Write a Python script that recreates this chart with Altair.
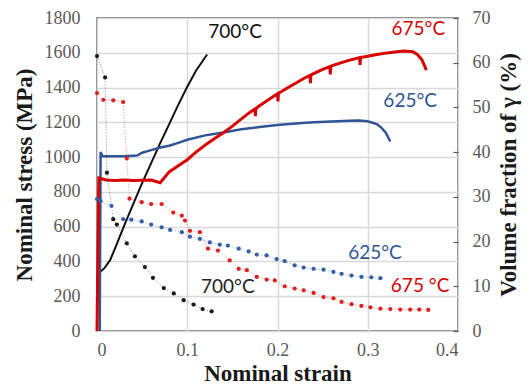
import altair as alt
import pandas as pd

# ---- stress-strain curves (left axis, MPa) ----
black_strain = [0, 0.001, 0.008, 0.0144, 0.02, 0.025, 0.031, 0.04, 0.05, 0.06, 0.07, 0.08, 0.09, 0.10, 0.11, 0.122]
black_stress = [0, 330, 360, 406, 475, 540, 617, 728, 850, 965, 1080, 1190, 1300, 1405, 1500, 1590]

blue_strain = [0.003, 0.004, 0.006, 0.01, 0.02, 0.03, 0.04, 0.045, 0.05, 0.06, 0.07, 0.08, 0.09, 0.10, 0.12,
               0.14, 0.16, 0.18, 0.20, 0.22, 0.24, 0.26, 0.28, 0.29, 0.30, 0.31, 0.315, 0.32, 0.325]
blue_stress = [0, 1030, 1005, 1005, 1005, 1005, 1008, 1010, 1025, 1040, 1055, 1065, 1082, 1100, 1125,
               1142, 1160, 1173, 1184, 1193, 1200, 1205, 1209, 1210, 1206, 1190, 1170, 1140, 1090]

red_strain = [0, 0.002, 0.01, 0.02, 0.03, 0.04, 0.05, 0.06, 0.07, 0.08, 0.09, 0.10, 0.11, 0.12, 0.13, 0.14,
              0.15, 0.16, 0.17, 0.175, 0.1755, 0.176, 0.18, 0.19, 0.20, 0.2005, 0.201, 0.21, 0.22, 0.23,
              0.236, 0.2365, 0.237, 0.24, 0.25, 0.258, 0.2585, 0.259, 0.26, 0.27, 0.28, 0.291, 0.2915,
              0.292, 0.30, 0.31, 0.32, 0.33, 0.34, 0.35, 0.355, 0.36, 0.365]
red_stress = [0, 880, 868, 866, 869, 865, 867, 868, 853, 915, 950, 985, 1030, 1070, 1105, 1140,
              1178, 1220, 1260, 1277, 1235, 1279, 1295, 1330, 1365, 1320, 1367, 1395, 1425, 1455,
              1470, 1425, 1472, 1480, 1505, 1520, 1475, 1522, 1525, 1542, 1558, 1572, 1530,
              1573, 1580, 1590, 1598, 1605, 1610, 1606, 1590, 1560, 1500]

# ---- volume fraction of gamma (right axis, %) ----
black_vf_strain = [0, 0.009, 0.011, 0.018, 0.022, 0.033, 0.042, 0.053, 0.062, 0.074, 0.085, 0.096, 0.107, 0.117, 0.127]
black_vf = [61.5, 56.7, 35.4, 25.0, 23.8, 19.6, 16.7, 14.3, 11.9, 9.6, 8.4, 6.9, 5.9, 4.9, 4.4]

blue_vf_strain = [0, 0.004, 0.016, 0.029, 0.038, 0.0495, 0.06, 0.0716, 0.081, 0.094, 0.103, 0.114, 0.125,
                  0.136, 0.145, 0.157, 0.168, 0.177, 0.188, 0.199, 0.208, 0.219, 0.229, 0.24, 0.251,
                  0.262, 0.271, 0.282, 0.293, 0.304, 0.314]
blue_vf = [29.5, 29.1, 28.0, 25.0, 24.9, 24.5, 23.8, 23.2, 22.6, 22.1, 21.1, 20.6, 19.8, 19.3, 19.1, 18.4,
           17.8, 17.1, 16.9, 16.1, 15.6, 14.7, 14.2, 13.9, 13.7, 13.2, 12.8, 12.4, 12.1, 12.0, 11.8]

red_vf_strain = [0, 0.007, 0.018, 0.029, 0.033, 0.036, 0.0495, 0.06, 0.0717, 0.0845, 0.094, 0.0975, 0.103,
                 0.114, 0.123, 0.134, 0.147, 0.157, 0.166, 0.177, 0.188, 0.197, 0.208, 0.219, 0.229, 0.24,
                 0.251, 0.262, 0.271, 0.282, 0.293, 0.303, 0.314, 0.325, 0.336, 0.347, 0.357, 0.367]
red_vf = [53.2, 51.7, 51.6, 51.2, 38.6, 29.6, 28.8, 28.4, 28.4, 26.5, 25.8, 24.7, 22.4, 22.1, 18.4, 18.0,
          15.8, 13.9, 13.6, 12.1, 11.5, 11.3, 10.0, 9.5, 9.1, 8.5, 7.6, 7.3, 6.5, 6.0, 5.6, 5.3, 5.0,
          4.9, 4.8, 4.8, 4.8, 4.7]

# ---- annotations (in strain / stress coordinates) ----
ann_text = ["700°C", "675°C", "625°C", "625°C", "675   °C", "700°C"]
ann_strain = [0.153, 0.356, 0.347, 0.308, 0.358, 0.145]
ann_stress = [1720, 1737, 1320, 451, 257, 251]
ann_color = ["#111111", "#d40000", "#2f5597", "#2f5597", "#d40000", "#222222"]

RED = "#d90000"
BLUE = "#2f5597"
BLACK = "#111111"

SERIF = "Liberation Serif"
GRID = "#d9d9d9"

x_scale = alt.Scale(domain=[0, 0.4], nice=False, zero=False)
yl_scale = alt.Scale(domain=[0, 1800], nice=False)
yr_scale = alt.Scale(domain=[0, 70], nice=False)

x_axis = alt.Axis(values=[0, 0.1, 0.2, 0.3, 0.4],
                  labelExpr="datum.value == 0 ? '0' : format(datum.value, '.1f')",
                  grid=True, gridColor=GRID, gridWidth=1.5, ticks=False, tickSize=0, domain=False,
                  labelFont=SERIF, labelFontSize=18, labelColor="#595959", labelPadding=10,
                  title="Nominal strain", titleFont=SERIF, titleFontSize=23, titleFontWeight="bold",
                  titleColor="#1a1a1a", titlePadding=3)
yl_axis = alt.Axis(values=list(range(0, 1801, 200)), format="d", grid=True, gridColor=GRID, gridWidth=1.5,
                   ticks=False, tickSize=0, domain=False, labelFont=SERIF, labelFontSize=18,
                   labelColor="#595959", labelPadding=17, title="Nominal stress (MPa)",
                   titleFont=SERIF, titleFontSize=23, titleFontWeight="bold", titleColor="#1a1a1a",
                   titlePadding=8)
yr_axis = alt.Axis(orient="right", values=list(range(0, 71, 10)), format="d", grid=False, domain=False,
                   ticks=True, tickSize=5, tickColor="#595959", tickWidth=1.2, offset=-5,
                   labelFont=SERIF, labelFontSize=18, labelColor="#595959", labelPadding=14,
                   title="Volume fraction of γ (%)", titleFont=SERIF, titleFontSize=23,
                   titleFontWeight="bold", titleColor="#1a1a1a", titleAngle=270, titlePadding=30)


def df(xs, ys):
    return pd.DataFrame({"strain": xs, "v": ys, "idx": list(range(len(xs)))})


def stress_line(xs, ys, color, width):
    return alt.Chart(df(xs, ys)).mark_line(color=color, strokeWidth=width).encode(
        x=alt.X("strain:Q", scale=x_scale, axis=x_axis),
        y=alt.Y("v:Q", scale=yl_scale, axis=yl_axis),
        order="idx:Q",
    )


def vf_layer(xs, ys, color):
    base = alt.Chart(df(xs, ys)).encode(
        x=alt.X("strain:Q", scale=x_scale, axis=x_axis),
        y=alt.Y("v:Q", scale=yr_scale, axis=yr_axis),
        order="idx:Q",
    )
    line = base.mark_line(color=color, strokeWidth=0.8, strokeDash=[1, 2], opacity=0.7)
    pts = base.mark_circle(color=color, size=18, opacity=1)
    return line + pts


ann_df = pd.DataFrame({"t": ann_text, "strain": ann_strain, "v": ann_stress, "c": ann_color})
ann = alt.Chart(ann_df).mark_text(font="Lato", fontSize=19, align="center", baseline="middle").encode(
    x=alt.X("strain:Q", scale=x_scale, axis=x_axis),
    y=alt.Y("v:Q", scale=yl_scale, axis=yl_axis),
    text="t:N",
    color=alt.Color("c:N", scale=None),
)

left = alt.layer(
    stress_line(black_strain, black_stress, BLACK, 2),
    stress_line(blue_strain, blue_stress, BLUE, 2.5),
    stress_line(red_strain, red_stress, RED, 3),
    ann,
)
right = alt.layer(
    vf_layer(black_vf_strain, black_vf, "#1a1a1a"),
    vf_layer(blue_vf_strain, blue_vf, "#3560a8"),
    vf_layer(red_vf_strain, red_vf, "#e02020"),
)

chart = alt.layer(left, right).resolve_scale(y="independent").properties(
    width=361, height=313,
    autosize=alt.AutoSizeParams(type="none"),
    padding={"left": 89, "top": 10, "right": 64, "bottom": 56},
).configure_view(stroke="#595959", strokeWidth=1.5)

chart.save("out.html", embed_options={"renderer": "svg", "actions": False})
